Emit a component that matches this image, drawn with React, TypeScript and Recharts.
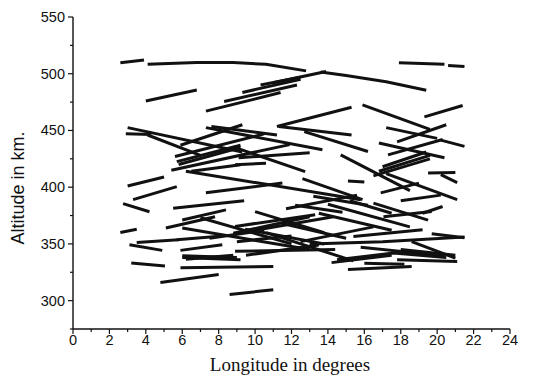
import { ScatterChart, Scatter, XAxis, YAxis } from "recharts";

// each track is a flat list: lon, alt, lon, alt, ...
const topTracks = [
  [2.6, 509.6, 3.9, 512],
  [4.1, 508.3, 6.8, 509.8, 8.8, 509.8, 10.6, 508.3, 12.8, 502.5],
  [13.6, 501.5, 15.0, 498.5, 17.2, 493, 19.4, 485.5],
  [17.9, 509.6, 20.4, 508.4],
  [20.6, 507.2, 21.5, 506.3],
  [4.0, 476, 6.8, 485.7],
  [7.3, 467, 11.4, 483.4],
  [8.3, 475.5, 12.3, 490],
  [9.3, 483.5, 12.5, 495],
  [10.3, 490, 12.5, 497],
  [11.0, 492, 13.9, 502],
];

const upperTracks = [
  [15.9, 472.5, 19.6, 451],
  [19.3, 462, 21.4, 472],
  [20.2, 441.5, 21.5, 436],
  [11.2, 453.5, 15.3, 470.5],
  [11.3, 453.5, 15.3, 446],
  [12.7, 449, 16.2, 431.5],
  [17.2, 452.5, 20.0, 443],
  [17.8, 440, 20.5, 455],
  [16.8, 439, 20.4, 426],
  [17.3, 428.5, 20.3, 442],
  [16.8, 414, 19.6, 428],
  [16.5, 410, 19.6, 425],
  [17.0, 418, 19.4, 431],
  [14.7, 428.5, 18.5, 397],
  [3.0, 452.5, 9.3, 431],
  [2.9, 447, 4.3, 446.5],
  [4.1, 446, 7.0, 428],
  [7.3, 452.5, 13.7, 433],
  [5.9, 437, 9.3, 455],
  [5.6, 427, 10.5, 447],
  [5.7, 422.5, 9.2, 437],
  [5.8, 420, 9.2, 435],
  [5.4, 415, 11.9, 437.5],
  [6.5, 414, 9.2, 419.7],
  [7.6, 453.5, 11.2, 446],
  [8.9, 419.7, 10.6, 421.2],
  [9.1, 426, 13.0, 430.3],
  [8.8, 435.5, 12.75, 413.7],
];

const middleTracks = [
  [15.1, 405.5, 16.0, 404.5],
  [16.9, 395, 19.0, 403.6],
  [15.2, 388, 17.5, 377],
  [18.0, 388, 20.2, 393],
  [17.2, 412, 21.1, 389],
  [19.5, 412.5, 21.0, 413],
  [20.2, 411, 21.1, 404],
  [3.0, 401, 5.0, 409],
  [3.3, 389, 5.7, 400.5],
  [2.75, 385.5, 4.2, 378.3],
  [6.2, 414, 15.8, 389],
  [7.3, 395, 11.5, 403.6],
  [5.5, 381.5, 9.4, 388],
  [6.0, 371, 8.4, 380],
  [5.1, 364, 7.8, 374],
  [12.6, 407.5, 15.9, 389],
  [11.7, 381, 15.6, 393],
  [10.0, 378.5, 13.8, 360],
  [8.9, 365.4, 13.3, 375.7],
  [9.45, 363, 13.8, 350],
  [7.0, 373, 12.0, 350],
  [6.0, 364, 13.0, 345],
  [10.0, 362, 14.3, 374],
  [13.5, 377, 17.5, 362],
  [14.0, 385, 18.5, 365],
  [11.5, 368, 15.0, 355],
  [12.5, 352, 16.5, 365],
  [16.5, 386, 19.5, 371],
  [17.05, 374, 19.7, 378.5],
  [19.2, 377, 20.3, 383],
  [8.8, 359.5, 13.0, 374],
  [12.2, 384, 14.8, 378],
  [13.2, 392, 16.2, 384],
];

const lowerTracks = [
  [2.6, 360, 3.5, 363],
  [3.5, 351.3, 5.8, 353.7],
  [5.7, 353.7, 8.2, 357],
  [3.1, 349.3, 4.9, 344.3],
  [5.9, 344.3, 8.2, 349.3],
  [3.2, 333.2, 5.05, 330.5],
  [6.0, 338, 9.2, 336],
  [6.0, 339.5, 9.0, 338],
  [6.2, 336.5, 8.8, 340],
  [5.9, 329, 11.0, 330],
  [4.8, 316, 8.0, 323],
  [8.6, 305.5, 11.0, 309.5],
  [8.9, 343.5, 14.4, 345],
  [14.2, 333.5, 17.5, 340],
  [10.6, 360, 15.4, 335],
  [9.0, 352, 12.0, 357],
  [9.5, 340, 13.5, 349],
  [7.5, 355, 10.5, 362],
  [15.4, 356.6, 19.2, 362.4],
  [13.0, 350, 17.0, 352, 21.5, 356],
  [15.1, 327.5, 18.6, 330],
  [17.8, 336, 21.1, 334.6],
  [18.6, 352, 21.0, 337.5],
  [15.8, 347, 19.5, 341],
  [18.7, 342, 20.4, 339],
  [19.7, 359, 21.5, 355.5],
  [14.5, 336, 17.6, 342, 20.5, 338],
  [16.0, 333, 18.2, 332],
  [18.0, 345, 21.0, 340],
];

const xTicks = [0, 1, 2, 3, 4, 5, 6, 7, 8, 9, 10, 11, 12, 13, 14, 15, 16, 17, 18, 19, 20, 21, 22, 23, 24];
const yTicks = [275, 300, 325, 350, 375, 400, 425, 450, 475, 500, 525, 550];

const allTracks = [...topTracks, ...upperTracks, ...middleTracks, ...lowerTracks].map((t) => {
  const pts = [];
  for (let i = 0; i < t.length; i += 2) pts.push({ x: t[i], y: t[i + 1] });
  return pts;
});

const tickFont = { fontFamily: "'Liberation Sans', Arial, sans-serif", fontSize: 14.5, fill: "#111" };

const XTick = ({ x, y, payload }: any) => {
  const major = payload.value % 2 === 0;
  return (
    <g>
      <line x1={x} x2={x} y1={y} y2={y + (major ? 5 : 3)} stroke="#111" strokeWidth={1.2} />
      {major && (
        <text x={x} y={y + 16} textAnchor="middle" style={tickFont}>
          {payload.value}
        </text>
      )}
    </g>
  );
};

const YTick = ({ x, y, payload }: any) => {
  const major = payload.value % 50 === 0;
  return (
    <g>
      <line x1={x - (major ? 5 : 3)} x2={x} y1={y} y2={y} stroke="#111" strokeWidth={1.2} />
      {major && (
        <text x={x - 8} y={y + 5} textAnchor="end" style={tickFont}>
          {payload.value}
        </text>
      )}
    </g>
  );
};

export default function App() {
  return (
    <div style={{ width: 535, height: 386, background: "#fff" }}>
      <style>{`body{margin:0}`}</style>
      <ScatterChart width={535} height={386} margin={{ top: 17, right: 25, bottom: 27, left: 13 }}>
        <XAxis
          type="number"
          dataKey="x"
          domain={[0, 24]}
          ticks={xTicks}
          interval={0}
          tickSize={0}
          tickMargin={0}
          tick={<XTick />}
          height={30}
          stroke="#111"
          strokeWidth={1.4}
          label={{
            content: () => (
              <text
                x={290}
                y={371}
                textAnchor="middle"
                style={{ fontFamily: "'Liberation Serif', 'Times New Roman', serif", fontSize: 19, fill: "#111" }}
              >
                Longitude in degrees
              </text>
            ),
          }}
        />
        <YAxis
          type="number"
          dataKey="y"
          domain={[275, 550]}
          ticks={yTicks}
          interval={0}
          tickSize={0}
          tickMargin={0}
          tick={<YTick />}
          width={60}
          stroke="#111"
          strokeWidth={1.4}
          label={{
            content: () => (
              <text
                transform="translate(24,188) rotate(-90)"
                textAnchor="middle"
                style={{ fontFamily: "'Liberation Sans', Arial, sans-serif", fontSize: 18, fill: "#111" }}
              >
                Altitude in km.
              </text>
            ),
          }}
        />
        {allTracks.map((pts, i) => (
          <Scatter
            key={i}
            data={pts}
            line={{ stroke: "#111", strokeWidth: 3 }}
            shape={() => <g />}
            isAnimationActive={false}
            legendType="none"
          />
        ))}
      </ScatterChart>
    </div>
  );
}
